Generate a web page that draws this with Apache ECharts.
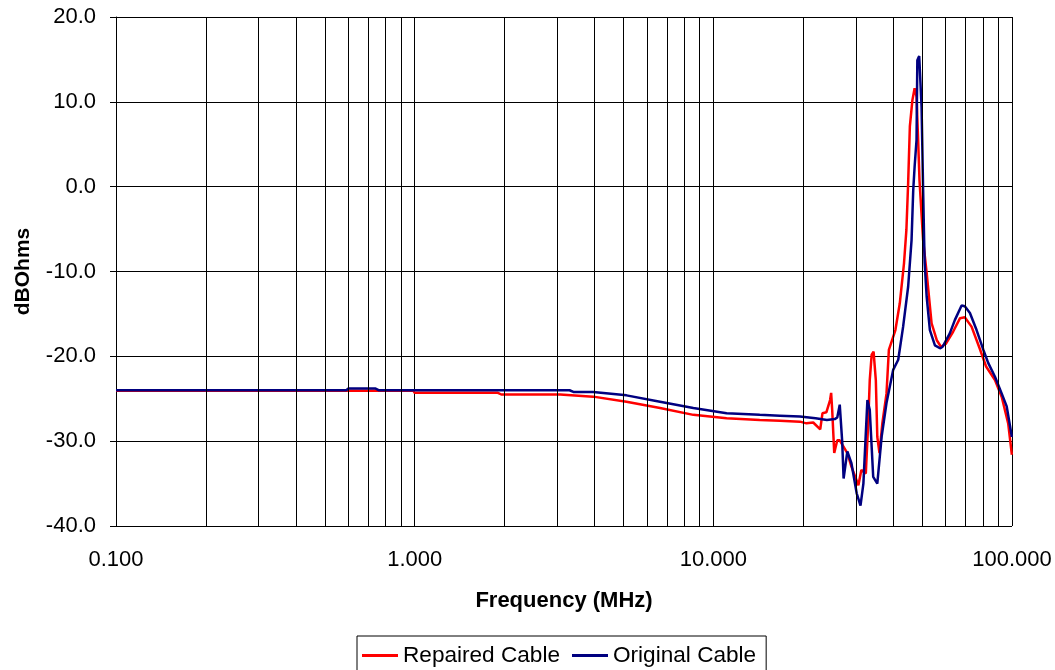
<!DOCTYPE html>
<html>
<head>
<meta charset="utf-8">
<script src="https://cdn.jsdelivr.net/npm/echarts@6/dist/echarts.min.js"></script>
<style>
html,body{margin:0;padding:0;background:#fff;}
#chart{width:1055px;height:670px;}
</style>
</head>
<body>
<div id="chart"></div>
<script>
// Frequency (MHz) and impedance (dBOhms)
const repairedFreq = [0.1, 0.99, 1.0, 1.9, 1.95, 3.07, 3.96, 5.12, 6.63, 8.57, 11.08, 14.3, 16.7, 19.5, 20.5, 21.6, 22.8, 23.2, 23.9, 24.6, 24.8, 25.0, 25.4, 26.0, 26.5, 28.1, 29.0, 30.6, 31.3, 32.4, 33.0, 33.4, 33.9, 34.4, 35.0, 35.4, 36.0, 36.8, 38.0, 38.7, 40.7, 42.1, 43.5, 44.3, 44.9, 45.5, 46.4, 47.2, 47.9, 48.5, 49.0, 50.4, 51.8, 53.8, 56.0, 57.9, 60.1, 63.5, 67.0, 69.5, 73.2, 77.9, 81.9, 87.7, 92.4, 97.1, 99.9];
const repairedVal = [-24.05, -24.05, -24.3, -24.3, -24.5, -24.5, -24.75, -25.35, -26.1, -26.9, -27.3, -27.5, -27.6, -27.7, -27.9, -27.8, -28.6, -26.7, -26.6, -25.15, -24.3, -26.3, -31.4, -29.9, -29.9, -31.4, -33.0, -35.2, -33.4, -33.8, -27.9, -22.8, -19.8, -19.45, -22.8, -29.5, -31.4, -27.9, -24.4, -19.25, -16.9, -13.75, -9.0, -5.1, 0.4, 7.1, 10.2, 11.6, 10.6, 5.5, 0.8, -6.3, -10.2, -16.1, -18.1, -18.9, -18.5, -17.1, -15.5, -15.4, -16.5, -19.05, -21.2, -22.8, -24.8, -27.9, -31.6];

const originalFreq = [0.1, 0.59, 0.60, 0.74, 0.76, 3.3, 3.4, 3.96, 5.12, 6.63, 8.57, 11.08, 14.3, 16.7, 19.5, 22.0, 24.0, 25.5, 26.0, 26.5, 27.0, 27.3, 28.1, 29.0, 30.2, 31.1, 31.8, 32.8, 33.4, 34.3, 35.4, 36.6, 38.0, 40.0, 41.6, 43.2, 44.9, 46.1, 46.7, 47.2, 47.9, 48.2, 48.9, 49.8, 50.4, 50.8, 51.0, 51.8, 53.1, 55.2, 57.4, 58.5, 61.9, 64.4, 67.8, 69.5, 72.3, 76.1, 80.2, 83.3, 87.7, 92.4, 96.0, 99.9];
const originalVal = [-24.0, -24.0, -23.8, -23.8, -24.0, -24.0, -24.2, -24.2, -24.6, -25.35, -26.1, -26.7, -26.9, -27.0, -27.1, -27.3, -27.5, -27.4, -27.2, -25.7, -30.0, -34.4, -31.2, -32.6, -36.15, -37.6, -35.0, -25.15, -26.3, -34.2, -35.0, -29.5, -25.5, -21.6, -20.4, -16.5, -11.8, -6.3, -0.4, 2.35, 5.5, 14.9, 15.4, 9.4, -0.4, -6.3, -9.0, -13.0, -16.9, -18.7, -19.05, -18.9, -17.3, -15.7, -14.0, -14.1, -14.9, -16.9, -19.25, -20.8, -22.4, -24.4, -25.9, -29.5];

const minorGridFreq = [0.2,0.3,0.4,0.5,0.6,0.7,0.8,0.9,2,3,4,5,6,7,8,9,20,30,40,50,60,70,80,90];

const seriesNames = ['Repaired Cable', 'Original Cable'];
const yTicks = {min: -40, max: 20, interval: 10};

const zip = (xs, ys) => xs.map((x, i) => [x, ys[i]]);
const FONT = 'Liberation Sans, Arial, sans-serif';

const chart = echarts.init(document.getElementById('chart'), null, {renderer: 'canvas'});
chart.setOption({
  animation: false,
  backgroundColor: '#fff',
  grid: {left: 116, right: 43, top: 17, bottom: 144, containLabel: false},
  xAxis: {
    type: 'log', logBase: 10, min: 0.1, max: 100,
    name: 'Frequency (MHz)', nameLocation: 'middle', nameGap: 64,
    nameTextStyle: {fontFamily: FONT, fontSize: 22, fontWeight: 'bold', color: '#000'},
    axisLine: {show: true, lineStyle: {color: '#000', width: 1}},
    axisTick: {show: true, length: 6, lineStyle: {color: '#000'}},
    axisLabel: {fontFamily: FONT, fontSize: 22, color: '#000', margin: 23,
      formatter: v => Number(v).toFixed(3)},
    splitLine: {show: true, lineStyle: {color: '#000', width: 1}}
  },
  yAxis: {
    type: 'value', min: yTicks.min, max: yTicks.max, interval: yTicks.interval,
    name: 'dBOhms', nameLocation: 'middle', nameGap: 82, nameRotate: 90,
    nameTextStyle: {fontFamily: FONT, fontSize: 21, fontWeight: 'bold', color: '#000'},
    axisLine: {show: true, lineStyle: {color: '#000', width: 1}},
    axisTick: {show: true, length: 6, lineStyle: {color: '#000'}},
    axisLabel: {fontFamily: FONT, fontSize: 22, color: '#000', margin: 20,
      formatter: v => Number(v).toFixed(1)},
    splitLine: {show: true, lineStyle: {color: '#000', width: 1}}
  },
  legend: {
    data: seriesNames, left: 357, top: 636,
    orient: 'horizontal',
    borderColor: '#000', borderWidth: 1, padding: [8, 10, 10, 5],
    itemWidth: 36, itemHeight: 3, itemGap: 12,
    icon: 'rect',
    textStyle: {fontFamily: FONT, fontSize: 22.6, color: '#000'}
  },
  series: [
    {
      name: seriesNames[0], type: 'line', data: zip(repairedFreq, repairedVal),
      showSymbol: false, symbol: 'none', color: '#ff0000',
      lineStyle: {width: 2.5, color: '#ff0000'},
      markLine: {
        silent: true, symbol: ['none', 'none'], label: {show: false},
        lineStyle: {color: '#000', width: 1, type: 'solid'},
        emphasis: {disabled: true},
        data: minorGridFreq.map(f => ({xAxis: f}))
      },
      z: 3
    },
    {
      name: seriesNames[1], type: 'line', data: zip(originalFreq, originalVal),
      showSymbol: false, symbol: 'none', color: '#000080',
      lineStyle: {width: 2.5, color: '#000080'},
      z: 4
    }
  ]
});
</script>
</body>
</html>
